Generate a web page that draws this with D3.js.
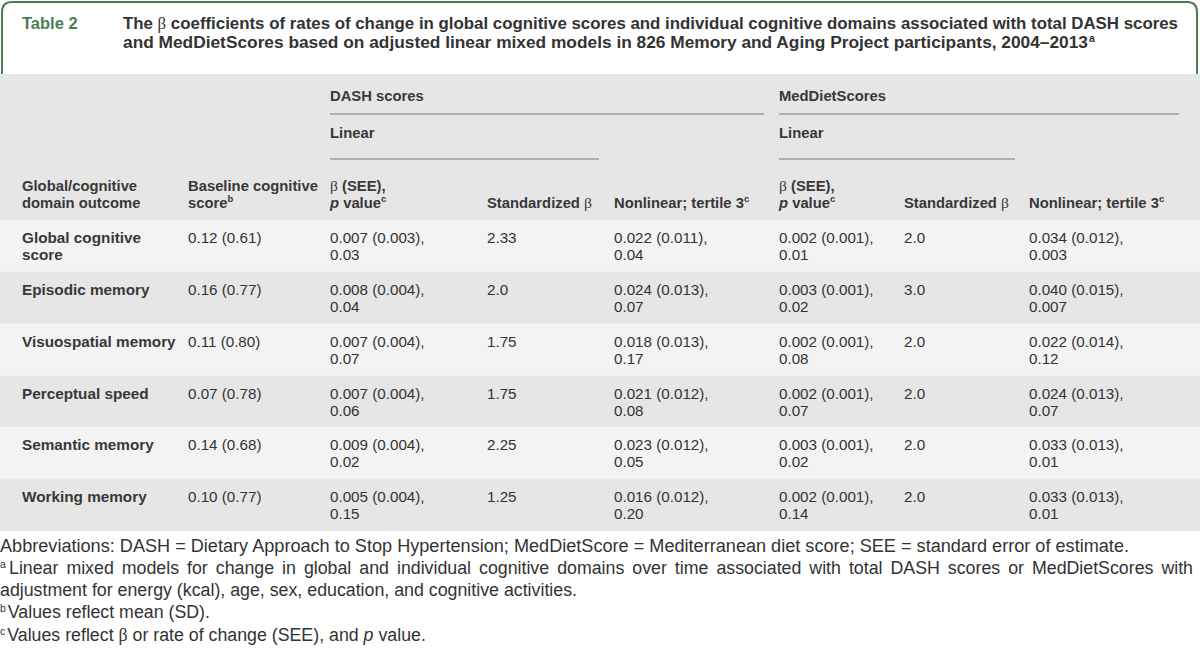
<!DOCTYPE html>
<html>
<head>
<meta charset="utf-8">
<script src="https://cdn.jsdelivr.net/npm/d3@7"></script>
<style>
  html, body { margin: 0; padding: 0; background: #fff; }
  svg { display: block; }
  text { font-family: "Liberation Sans", Arial, sans-serif; }
</style>
</head>
<body>
<svg id="chart" width="1200" height="658"></svg>
<script>
// ---------------- DATA ----------------
const tableLabel = "Table 2";
const titleLines = [
  "The β coefficients of rates of change in global cognitive scores and individual cognitive domains associated with total DASH scores",
  "and MedDietScores based on adjusted linear mixed models in 826 Memory and Aging Project participants, 2004–2013"
];
const groupLabels = ["DASH scores", "MedDietScores"];
const subGroupLabel = "Linear";
const outcomes = [
  ["Global cognitive", "score"],
  ["Episodic memory"],
  ["Visuospatial memory"],
  ["Perceptual speed"],
  ["Semantic memory"],
  ["Working memory"]
];
const baseline = ["0.12 (0.61)", "0.16 (0.77)", "0.11 (0.80)", "0.07 (0.78)", "0.14 (0.68)", "0.10 (0.77)"];
const dashBeta = ["0.007 (0.003),", "0.008 (0.004),", "0.007 (0.004),", "0.007 (0.004),", "0.009 (0.004),", "0.005 (0.004),"];
const dashP = ["0.03", "0.04", "0.07", "0.06", "0.02", "0.15"];
const dashStd = ["2.33", "2.0", "1.75", "1.75", "2.25", "1.25"];
const dashNonBeta = ["0.022 (0.011),", "0.024 (0.013),", "0.018 (0.013),", "0.021 (0.012),", "0.023 (0.012),", "0.016 (0.012),"];
const dashNonP = ["0.04", "0.07", "0.17", "0.08", "0.05", "0.20"];
const medBeta = ["0.002 (0.001),", "0.003 (0.001),", "0.002 (0.001),", "0.002 (0.001),", "0.003 (0.001),", "0.002 (0.001),"];
const medP = ["0.01", "0.02", "0.08", "0.07", "0.02", "0.14"];
const medStd = ["2.0", "3.0", "2.0", "2.0", "2.0", "2.0"];
const medNonBeta = ["0.034 (0.012),", "0.040 (0.015),", "0.022 (0.014),", "0.024 (0.013),", "0.033 (0.013),", "0.033 (0.013),"];
const medNonP = ["0.003", "0.007", "0.12", "0.07", "0.01", "0.01"];
const footAbbrev = "Abbreviations: DASH = Dietary Approach to Stop Hypertension; MedDietScore = Mediterranean diet score; SEE = standard error of estimate.";
const footA1 = "Linear mixed models for change in global and individual cognitive domains over time associated with total DASH scores or MedDietScores with";
const footA2 = "adjustment for energy (kcal), age, sex, education, and cognitive activities.";
const footB = "Values reflect mean (SD).";

// ---------------- LAYOUT ----------------
const svg = d3.select("#chart");
const W = 1200, H = 658;
const green = "#4d7c53";
const textCol = "#333333";
const headBg = "#e6e6e6", rowLight = "#f3f3f3", rowDark = "#e6e6e6";
const colX = [22, 188, 330, 487, 614, 779, 904, 1029];

svg.append("rect").attr("width", W).attr("height", H).attr("fill", "#fff");

function measure(str, size, weight) {
  const t = svg.append("text").attr("font-size", size).attr("font-weight", weight || "normal").text(str);
  const w = t.node().getComputedTextLength();
  t.remove();
  return w;
}

// title box
svg.append("path")
  .attr("d", "M2,74 L2,12 Q2,2 12,2 L1187,2 Q1197,2 1197,12 L1197,74")
  .attr("fill", "none").attr("stroke", green).attr("stroke-width", 2);

svg.append("text").attr("x", 22).attr("y", 28.5)
  .attr("font-size", 16.5).attr("font-weight", "bold").attr("fill", green).text(tableLabel);

const titleFs = 16;
const t1 = svg.append("text").attr("x", 123).attr("y", 28.5)
  .attr("font-size", titleFs).attr("font-weight", "bold").attr("fill", textCol)
  .attr("textLength", 1178 - 123).attr("lengthAdjust", "spacingAndGlyphs");
t1.append("tspan").text("The ");
t1.append("tspan").attr("font-family", "Liberation Serif, serif").attr("font-weight", "normal").text("β");
t1.append("tspan").text(titleLines[0].slice(5));
const t2 = svg.append("text").attr("x", 123).attr("y", 47.5)
  .attr("font-size", titleFs).attr("font-weight", "bold").attr("fill", textCol);
t2.append("tspan").attr("textLength", 1088 - 123).attr("lengthAdjust", "spacingAndGlyphs").text(titleLines[1]);
t2.append("tspan").attr("font-size", 10.5).attr("dy", -6).attr("dx", 1).text("a");

// header background
const headerTop = 74, headerBot = 220, tableBot = 531;
svg.append("rect").attr("x", 0).attr("y", headerTop).attr("width", W).attr("height", headerBot - headerTop).attr("fill", headBg);

// row scale
const y = d3.scaleBand().domain(d3.range(outcomes.length)).range([headerBot, tableBot]).paddingInner(0);
svg.selectAll("rect.row").data(outcomes).join("rect").attr("class", "row")
  .attr("x", 0).attr("y", (d, i) => y(i)).attr("width", W).attr("height", y.bandwidth())
  .attr("fill", (d, i) => i % 2 === 0 ? rowLight : rowDark);

// group header texts
const hs = 14.8;
const headCol = "#383838";
function headText(x, yy, str) {
  return svg.append("text").attr("x", x).attr("y", yy).attr("font-size", hs)
    .attr("font-weight", "bold").attr("fill", headCol).text(str);
}
headText(colX[2], 101, groupLabels[0]);
headText(colX[5], 101, groupLabels[1]);
headText(colX[2], 138, subGroupLabel);
headText(colX[5], 138, subGroupLabel);
const lineCol = "#7a7a7a";
[[colX[2], 764, 114], [colX[5], 1179, 114], [colX[2], 599, 159], [colX[5], 1015, 159]].forEach(([x1, x2, yy]) => {
  svg.append("line").attr("x1", x1).attr("x2", x2).attr("y1", yy).attr("y2", yy)
    .attr("stroke", lineCol).attr("stroke-width", 1.2);
});

// column headers
const hb1 = 191, hb2 = 208;
headText(colX[0], hb1, "Global/cognitive");
headText(colX[0], hb2, "domain outcome");
headText(colX[1], hb1, "Baseline cognitive");
{
  const t = headText(colX[1], hb2, "score");
  t.append("tspan").attr("font-size", 9.5).attr("dy", -6).text("b");
}
[colX[2], colX[5]].forEach(x => {
  const a = svg.append("text").attr("x", x).attr("y", hb1).attr("font-size", hs).attr("font-weight", "bold").attr("fill", headCol);
  a.append("tspan").attr("font-family", "Liberation Serif, serif").attr("font-weight", "normal").attr("font-size", 15.5).text("β");
  a.append("tspan").text(" (SEE),");
  const b = svg.append("text").attr("x", x).attr("y", hb2).attr("font-size", hs).attr("font-weight", "bold").attr("fill", headCol);
  b.append("tspan").attr("font-style", "italic").text("p");
  b.append("tspan").text(" value");
  b.append("tspan").attr("font-size", 9.5).attr("dy", -6).text("c");
});
[colX[3], colX[6]].forEach(x => {
  const a = svg.append("text").attr("x", x).attr("y", hb2).attr("font-size", hs).attr("font-weight", "bold").attr("fill", headCol);
  a.append("tspan").text("Standardized ");
  a.append("tspan").attr("font-family", "Liberation Serif, serif").attr("font-weight", "normal").attr("font-size", 15.5).text("β");
});
[colX[4], colX[7]].forEach(x => {
  const a = svg.append("text").attr("x", x).attr("y", hb2).attr("font-size", hs).attr("font-weight", "bold").attr("fill", headCol);
  a.append("tspan").text("Nonlinear; tertile 3");
  a.append("tspan").attr("font-size", 9.5).attr("dy", -6).text("c");
});

// body cells
const bs = 15.2, ls = 15.3;
const l1 = 23, l2 = 40;
function cell(x, i, lines, bold) {
  const g = svg.append("text").attr("font-size", bold ? ls : bs)
    .attr("font-weight", bold ? "bold" : "normal").attr("fill", bold ? headCol : textCol);
  lines.forEach((s, k) => g.append("tspan").attr("x", x).attr("y", y(i) + (k === 0 ? l1 : l2)).text(s));
}
outcomes.forEach((o, i) => {
  cell(colX[0], i, o, true);
  cell(colX[1], i, [baseline[i]]);
  cell(colX[2], i, [dashBeta[i], dashP[i]]);
  cell(colX[3], i, [dashStd[i]]);
  cell(colX[4], i, [dashNonBeta[i], dashNonP[i]]);
  cell(colX[5], i, [medBeta[i], medP[i]]);
  cell(colX[6], i, [medStd[i]]);
  cell(colX[7], i, [medNonBeta[i], medNonP[i]]);
});

// footnotes
const fs = Math.min(18, 16 * 577 / measure(footA2, 16));
function foot(yy, parts, sup, width) {
  const t = svg.append("text").attr("x", 0).attr("y", yy).attr("font-size", fs).attr("fill", textCol);
  if (sup) t.append("tspan").attr("font-size", 10.5).attr("dy", -6).text(sup);
  parts.forEach((p, k) => {
    const s = t.append("tspan").text(p.t);
    if (sup && k === 0) s.attr("dy", 6).attr("dx", 2);
    if (p.italic) s.attr("font-style", "italic");
    if (p.serif) s.attr("font-family", "Liberation Serif, serif");
  });
  if (width) t.attr("textLength", width).attr("lengthAdjust", "spacingAndGlyphs");
  return t;
}
foot(552, [{t: footAbbrev}], null, 1129);
// justified line
{
  const words = footA1.split(" ");
  svg.append("text").attr("x", 0).attr("y", 568).attr("font-size", 10.5).attr("fill", textCol).text("a");
  const x0 = 9, x1 = 1193;
  const g = svg.append("g");
  const nodes = words.map(w => g.append("text").attr("y", 574).attr("font-size", fs).attr("fill", textCol).text(w));
  const widths = nodes.map(n => n.node().getComputedTextLength());
  const total = d3.sum(widths);
  let gap = (x1 - x0 - total) / (words.length - 1);
  let scale = 1;
  if (gap < 3) { scale = (x1 - x0 - 3 * (words.length - 1)) / total; gap = 3; }
  let cx = x0;
  nodes.forEach((n, k) => {
    n.attr("x", cx);
    if (scale !== 1) n.attr("textLength", widths[k] * scale).attr("lengthAdjust", "spacingAndGlyphs");
    cx += widths[k] * scale + gap;
  });
}
foot(596, [{t: footA2}], null, 577);
foot(618, [{t: footB}], "b", null);
foot(641, [{t: "Values reflect "}, {t: "β", serif: true}, {t: " or rate of change (SEE), and "}, {t: "p", italic: true}, {t: " value."}], "c", null);
</script>
</body>
</html>
